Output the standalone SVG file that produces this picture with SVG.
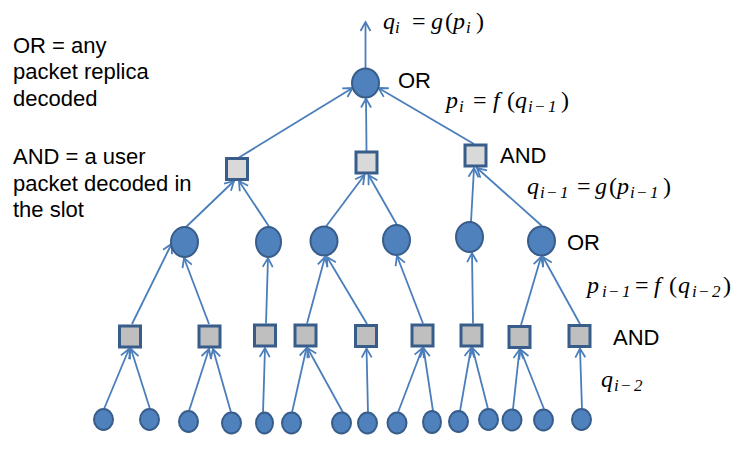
<svg xmlns="http://www.w3.org/2000/svg" width="747" height="451" viewBox="0 0 747 451">
<style>
.c{stroke:#4A7EBB;stroke-width:1.8;fill:none;marker-end:url(#ah)}
.or{fill:#4F81BD;stroke:#385D8A;stroke-width:2}
.and1{fill:#D9D9D9;stroke:#385D8A;stroke-width:3}
.and2{fill:#BFBFBF;stroke:#385D8A;stroke-width:3}
.lbl{font-family:"Liberation Sans",Arial,sans-serif;font-size:22px;fill:#000}
.m{font-family:"Liberation Serif","Times New Roman",serif;font-size:24px;fill:#000}
.it{font-style:italic}
.sb{font-size:17px;font-style:italic}
</style>
<defs>
<marker id="ah" markerUnits="userSpaceOnUse" markerWidth="14" markerHeight="14" viewBox="0 0 14 14" refX="12" refY="7" orient="auto" overflow="visible"><path d="M3,2 L12,7 L3,12" fill="none" stroke="#4A7EBB" stroke-width="1.8"/></marker>
</defs>
<g id="connectors">
<line class="c" x1="365.5" y1="68.5" x2="365.5" y2="22"/>
<line class="c" x1="239" y1="157.5" x2="352.5" y2="88"/>
<line class="c" x1="366.5" y1="151" x2="366" y2="98.5"/>
<line class="c" x1="474" y1="144" x2="378.5" y2="88"/>
<line class="c" x1="186" y1="227" x2="234" y2="181"/>
<line class="c" x1="270" y1="228" x2="239" y2="181"/>
<line class="c" x1="326" y1="226.5" x2="364.5" y2="175"/>
<line class="c" x1="397" y1="225" x2="368.5" y2="175"/>
<line class="c" x1="471" y1="222" x2="474" y2="168"/>
<line class="c" x1="542" y1="226" x2="477" y2="168"/>
<line class="c" x1="132" y1="324" x2="171.5" y2="244"/>
<line class="c" x1="209" y1="324" x2="184" y2="258"/>
<line class="c" x1="266" y1="323.5" x2="268" y2="258"/>
<line class="c" x1="307" y1="323.5" x2="325" y2="257"/>
<line class="c" x1="367" y1="324" x2="327" y2="257"/>
<line class="c" x1="423" y1="323.5" x2="397" y2="256"/>
<line class="c" x1="473" y1="323.5" x2="472" y2="253"/>
<line class="c" x1="521" y1="325" x2="541" y2="257"/>
<line class="c" x1="580" y1="324" x2="543" y2="257"/>
<line class="c" x1="104" y1="409" x2="129" y2="349"/>
<line class="c" x1="150" y1="409" x2="131" y2="349"/>
<line class="c" x1="189" y1="411" x2="209" y2="349"/>
<line class="c" x1="231" y1="412.5" x2="213" y2="349"/>
<line class="c" x1="263" y1="412.5" x2="265" y2="348"/>
<line class="c" x1="292" y1="412.5" x2="306.5" y2="348"/>
<line class="c" x1="343" y1="412.5" x2="307.5" y2="348"/>
<line class="c" x1="368" y1="412.5" x2="366.5" y2="348.5"/>
<line class="c" x1="398" y1="412.5" x2="422.5" y2="348"/>
<line class="c" x1="433" y1="411" x2="423.5" y2="348"/>
<line class="c" x1="460" y1="411" x2="471" y2="348"/>
<line class="c" x1="488" y1="409" x2="472.5" y2="348"/>
<line class="c" x1="513" y1="409" x2="519.5" y2="349.5"/>
<line class="c" x1="544" y1="409" x2="520.5" y2="349.5"/>
<line class="c" x1="582" y1="409" x2="580" y2="348.5"/>
</g>
<g id="top-or"><ellipse class="or" cx="365.5" cy="83" rx="13.5" ry="14.5"/></g>
<g id="and-1a"><rect class="and1" x="226.5" y="158.5" width="21" height="21"/></g>
<g id="and-1b"><rect class="and1" x="356" y="152" width="21" height="21"/></g>
<g id="and-1c"><rect class="and1" x="465" y="145" width="21" height="21"/></g>
<g id="or-2a"><ellipse class="or" cx="184.5" cy="242" rx="13.5" ry="15"/></g>
<g id="or-2b"><ellipse class="or" cx="268.5" cy="242" rx="12.5" ry="15"/></g>
<g id="or-2c"><ellipse class="or" cx="324" cy="241" rx="13.5" ry="14.5"/></g>
<g id="or-2d"><ellipse class="or" cx="396.5" cy="240" rx="13.5" ry="15"/></g>
<g id="or-2e"><ellipse class="or" cx="469.5" cy="237" rx="13.5" ry="15"/></g>
<g id="or-2f"><ellipse class="or" cx="541.5" cy="241" rx="13.5" ry="14.5"/></g>
<g id="and-3a"><rect class="and2" x="119.5" y="326" width="21" height="21"/></g>
<g id="and-3b"><rect class="and2" x="199" y="326" width="21" height="21"/></g>
<g id="and-3c"><rect class="and2" x="254.5" y="325" width="21" height="21"/></g>
<g id="and-3d"><rect class="and2" x="295" y="325" width="21" height="21"/></g>
<g id="and-3e"><rect class="and2" x="355.5" y="325.5" width="21" height="21"/></g>
<g id="and-3f"><rect class="and2" x="412" y="325" width="21" height="21"/></g>
<g id="and-3g"><rect class="and2" x="461" y="325" width="21" height="21"/></g>
<g id="and-3h"><rect class="and2" x="509" y="326.5" width="21" height="21"/></g>
<g id="and-3i"><rect class="and2" x="569" y="325.5" width="21" height="21"/></g>
<g id="leaf-1"><ellipse class="or" cx="103.5" cy="419.5" rx="9.5" ry="10.5"/></g>
<g id="leaf-2"><ellipse class="or" cx="149.5" cy="419.5" rx="9.5" ry="10.5"/></g>
<g id="leaf-3"><ellipse class="or" cx="188.5" cy="421.5" rx="9.5" ry="10.5"/></g>
<g id="leaf-4"><ellipse class="or" cx="231.5" cy="423" rx="9.5" ry="10.5"/></g>
<g id="leaf-5"><ellipse class="or" cx="264.5" cy="423" rx="8.5" ry="10.5"/></g>
<g id="leaf-6"><ellipse class="or" cx="291.5" cy="423" rx="9.5" ry="10.5"/></g>
<g id="leaf-7"><ellipse class="or" cx="341.5" cy="423" rx="9.5" ry="10.5"/></g>
<g id="leaf-8"><ellipse class="or" cx="367.5" cy="423" rx="9.5" ry="10.5"/></g>
<g id="leaf-9"><ellipse class="or" cx="397" cy="423" rx="9.5" ry="10.5"/></g>
<g id="leaf-10"><ellipse class="or" cx="432" cy="422" rx="9" ry="11"/></g>
<g id="leaf-11"><ellipse class="or" cx="458.5" cy="421.5" rx="9.5" ry="10.5"/></g>
<g id="leaf-12"><ellipse class="or" cx="488.5" cy="419.5" rx="9.5" ry="10.5"/></g>
<g id="leaf-13"><ellipse class="or" cx="512" cy="420" rx="9.5" ry="10.5"/></g>
<g id="leaf-14"><ellipse class="or" cx="543.5" cy="420" rx="9.5" ry="10.5"/></g>
<g id="leaf-15"><ellipse class="or" cx="581.5" cy="419.5" rx="9.5" ry="10.5"/></g>
<g id="labels">
<text class="lbl" x="13" y="53">OR = any</text>
<text class="lbl" x="13" y="79">packet replica</text>
<text class="lbl" x="13" y="106">decoded</text>
<text class="lbl" x="13" y="164">AND  = a user</text>
<text class="lbl" x="13" y="191">packet decoded in</text>
<text class="lbl" x="13" y="217">the slot</text>
<text class="lbl" x="398" y="88">OR</text>
<text class="lbl" x="500" y="163">AND</text>
<text class="lbl" x="567" y="250">OR</text>
<text class="lbl" x="613" y="345">AND</text>
</g>
<g id="math">
<text class="m" y="29"><tspan class="it" x="383">q</tspan><tspan class="sb" x="395" y="33">i</tspan><tspan x="412" y="29">=</tspan><tspan class="it" x="431">g</tspan><tspan x="445">(</tspan><tspan class="it" x="453">p</tspan><tspan class="sb" x="466" y="33">i</tspan><tspan x="476" y="29">)</tspan></text>
<text class="m" y="108"><tspan class="it" x="446">p</tspan><tspan class="sb" x="459" y="112">i</tspan><tspan x="473" y="108">=</tspan><tspan class="it" x="493">f</tspan><tspan x="507">(</tspan><tspan class="it" x="515">q</tspan><tspan class="sb" x="528 534 548" y="112">i−1</tspan><tspan x="561" y="108">)</tspan></text>
<text class="m" y="194"><tspan class="it" x="527">q</tspan><tspan class="sb" x="540 546 560" y="198">i−1</tspan><tspan x="577" y="194">=</tspan><tspan class="it" x="595">g</tspan><tspan x="609">(</tspan><tspan class="it" x="617">p</tspan><tspan class="sb" x="630 636 650" y="198">i−1</tspan><tspan x="663" y="194">)</tspan></text>
<text class="m" y="293"><tspan class="it" x="587">p</tspan><tspan class="sb" x="602 608 622" y="297">i−1</tspan><tspan x="635" y="293">=</tspan><tspan class="it" x="654">f</tspan><tspan x="669">(</tspan><tspan class="it" x="678">q</tspan><tspan class="sb" x="692 698 712" y="297">i−2</tspan><tspan x="723" y="293">)</tspan></text>
<text class="m" y="387"><tspan class="it" x="601">q</tspan><tspan class="sb" x="614 620 634" y="391">i−2</tspan></text>
</g>
</svg>
